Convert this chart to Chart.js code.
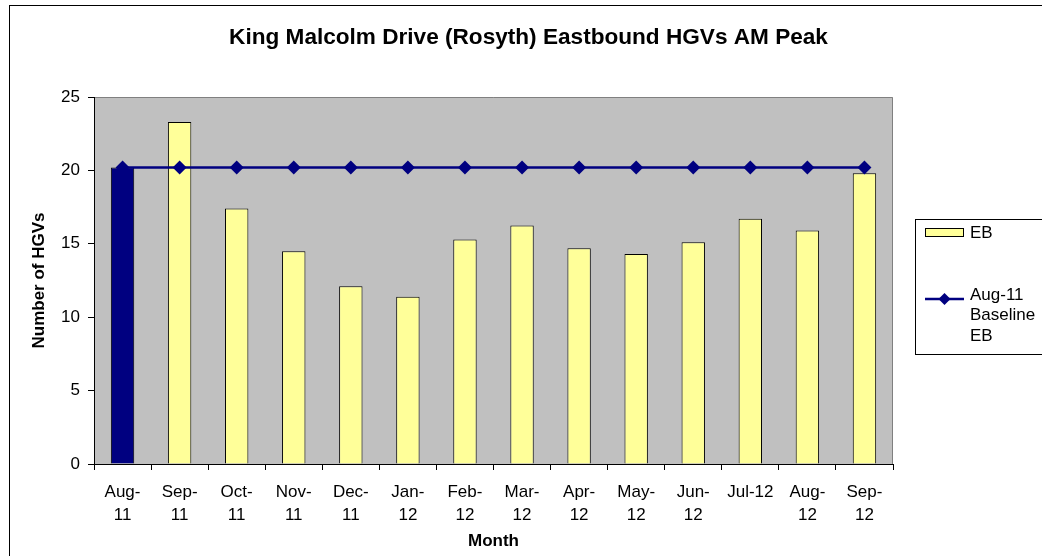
<!DOCTYPE html>
<html>
<head>
<meta charset="utf-8">
<script src="https://cdn.jsdelivr.net/npm/chart.js@4/dist/chart.umd.min.js"></script>
<style>
html,body{margin:0;padding:0;background:#fff;}
#wrap{position:relative;width:1042px;height:556px;}
canvas{display:block;}
</style>
</head>
<body>
<div id="wrap"><canvas id="c" width="1042" height="556"></canvas></div>
<script>
// ---- data ----
const categories = ["Aug-11","Sep-11","Oct-11","Nov-11","Dec-11","Jan-12","Feb-12","Mar-12","Apr-12","May-12","Jun-12","Jul-12","Aug-12","Sep-12"];
const tickLabels = [["Aug-","11"],["Sep-","11"],["Oct-","11"],["Nov-","11"],["Dec-","11"],["Jan-","12"],["Feb-","12"],["Mar-","12"],["Apr-","12"],["May-","12"],["Jun-","12"],["Jul-12"],["Aug-","12"],["Sep-","12"]];
const ebValues = [20.2, 23.3, 17.4, 14.5, 12.1, 11.4, 15.3, 16.25, 14.7, 14.3, 15.1, 16.7, 15.9, 19.8];
const baselineValues = [20.2, 20.2, 20.2, 20.2, 20.2, 20.2, 20.2, 20.2, 20.2, 20.2, 20.2, 20.2, 20.2, 20.2];
const seriesNames = ["EB", "Aug-11 Baseline EB"];
const yTicks = [0, 5, 10, 15, 20, 25];
const highlightCategory = "Aug-11";
const chartTitle = 'King Malcolm Drive (Rosyth) Eastbound HGVs AM Peak';

const FONT = "'Liberation Sans', Arial, sans-serif";
const NAVY = '#000080';
const YELLOW = '#FFFF99';

const barColors = categories.map(c => c === highlightCategory ? NAVY : YELLOW);

const framePlugin = {
  id: 'frame',
  beforeDraw(chart) {
    const ctx = chart.ctx;
    const a = chart.chartArea;
    ctx.save();
    ctx.fillStyle = '#fff';
    ctx.fillRect(0, 0, chart.width, chart.height);
    ctx.strokeStyle = '#000';
    ctx.lineWidth = 1;
    ctx.strokeRect(9.5, 5.5, 1100, 600);
    // title
    ctx.fillStyle = '#000';
    ctx.font = 'bold 22.6px ' + FONT;
    ctx.textAlign = 'center';
    ctx.textBaseline = 'middle';
    ctx.fillText(chartTitle, 528.5, 38);
    // plot area
    ctx.fillStyle = '#C0C0C0';
    ctx.fillRect(a.left, a.top, a.right - a.left, a.bottom - a.top);
    ctx.strokeStyle = '#808080';
    ctx.beginPath();
    ctx.moveTo(a.left, a.top + 0.5);
    ctx.lineTo(a.right - 0.5, a.top + 0.5);
    ctx.lineTo(a.right - 0.5, a.bottom);
    ctx.stroke();
    ctx.restore();
  },
  afterDraw(chart) {
    const ctx = chart.ctx;
    ctx.save();
    // legend box
    ctx.fillStyle = '#fff';
    ctx.fillRect(915, 219, 200, 135);
    ctx.strokeStyle = '#000';
    ctx.lineWidth = 1;
    ctx.strokeRect(915.5, 219.5, 200, 135);
    // EB swatch
    ctx.fillStyle = YELLOW;
    ctx.fillRect(925.5, 228.5, 38, 8);
    ctx.strokeRect(925.5, 228.5, 38, 8);
    ctx.fillStyle = '#000';
    ctx.font = '17px ' + FONT;
    ctx.textBaseline = 'middle';
    ctx.textAlign = 'left';
    ctx.fillText(seriesNames[0], 970, 233);
    // line swatch
    ctx.strokeStyle = NAVY;
    ctx.lineWidth = 2.5;
    ctx.beginPath();
    ctx.moveTo(925, 299);
    ctx.lineTo(964, 299);
    ctx.stroke();
    ctx.fillStyle = NAVY;
    ctx.beginPath();
    ctx.moveTo(944.5, 293);
    ctx.lineTo(950.5, 299);
    ctx.lineTo(944.5, 305);
    ctx.lineTo(938.5, 299);
    ctx.closePath();
    ctx.fill();
    ctx.fillStyle = '#000';
    const parts = ["Aug-11", "Baseline", "EB"];
    parts.forEach((t, i) => ctx.fillText(t, 970, 295 + i * 20.5));
    ctx.restore();
  }
};

new Chart(document.getElementById('c'), {
  type: 'bar',
  data: {
    labels: tickLabels,
    datasets: [
      {
        type: 'line',
        label: seriesNames[1],
        data: baselineValues,
        borderColor: NAVY,
        backgroundColor: NAVY,
        borderWidth: 2.5,
        pointStyle: 'rectRot',
        pointRadius: 7,
        pointBackgroundColor: NAVY,
        pointBorderColor: NAVY,
        pointBorderWidth: 0,
        tension: 0,
        order: 0
      },
      {
        type: 'bar',
        label: seriesNames[0],
        data: ebValues,
        backgroundColor: barColors,
        borderColor: '#000',
        borderWidth: 1,
        barPercentage: 0.41,
        categoryPercentage: 1.0,
        order: 1
      }
    ]
  },
  options: {
    responsive: false,
    animation: false,
    devicePixelRatio: 1,
    layout: { padding: { left: 0, right: 149, top: 97, bottom: 0 } },
    plugins: {
      legend: { display: false },
      tooltip: { enabled: false },
      title: { display: false }
    },
    scales: {
      x: {
        offset: true,
        grid: { display: true, drawOnChartArea: false, drawTicks: true, tickLength: 6, color: '#000', offset: true },
        border: { display: true, color: '#000', width: 1 },
        ticks: { color: '#000', font: { family: FONT, size: 17, lineHeight: 1.35 }, padding: 11, maxRotation: 0, autoSkip: false },
        title: { display: true, text: 'Month', color: '#000', font: { family: FONT, size: 17, weight: 'bold', lineHeight: 1.2 }, padding: { top: 0, bottom: 4 } },
        afterFit(s) { s.height = 92; }
      },
      y: {
        min: 0, max: 25,
        afterBuildTicks(s) { s.ticks = yTicks.map(v => ({ value: v })); },
        grid: { display: true, drawOnChartArea: false, drawTicks: true, tickLength: 6, color: '#000' },
        border: { display: true, color: '#000', width: 1 },
        ticks: { color: '#000', font: { family: FONT, size: 17 }, padding: 8 },
        title: { display: true, text: 'Number of HGVs', color: '#000', font: { family: FONT, size: 17, weight: 'bold', lineHeight: 1.2 }, padding: { top: 29, bottom: 0 } },
        afterFit(s) { s.width = 94; }
      }
    }
  },
  plugins: [framePlugin]
});
</script>
</body>
</html>
